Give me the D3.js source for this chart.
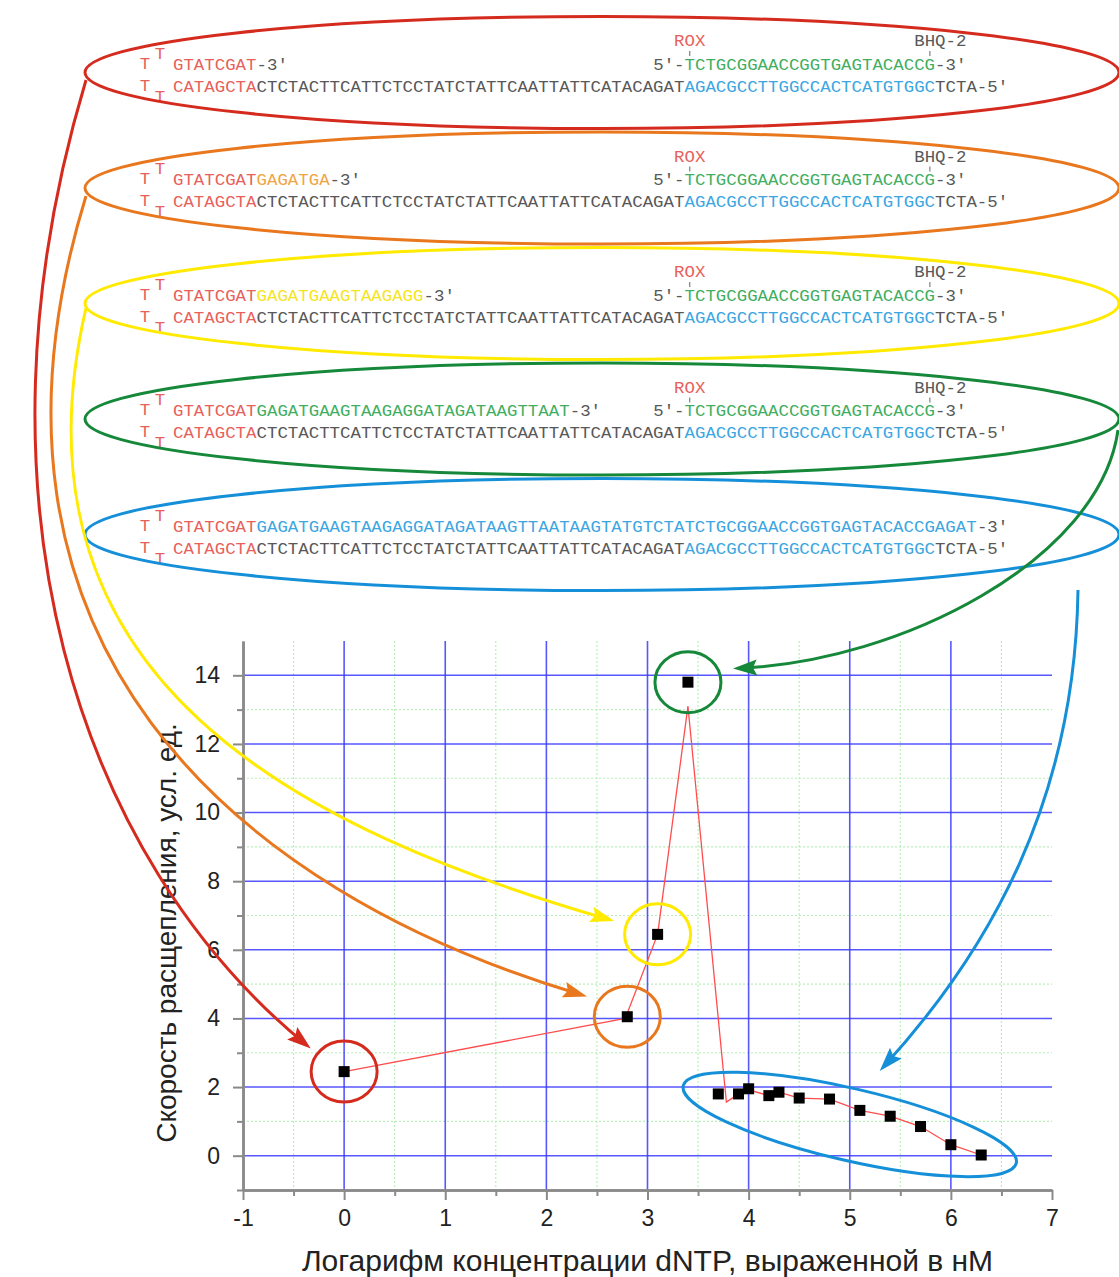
<!DOCTYPE html>
<html>
<head>
<meta charset="utf-8">
<script src="https://cdn.jsdelivr.net/npm/d3@7"></script>
<style>
  body { margin: 0; background: #fff; }
  svg { display: block; }
</style>
</head>
<body>
<script>
// ---- Measured cleavage rate vs log10 of dNTP concentration (nM) ----
const logConc = [0, 2.8, 3.1, 3.4, 3.7, 3.9, 4.0, 4.2, 4.3, 4.5, 4.8, 5.1, 5.4, 5.7, 6.0, 6.3];
const rate    = [2.45, 4.05, 6.45, 13.8, 1.8, 1.8, 1.95, 1.75, 1.85, 1.68, 1.65, 1.32, 1.15, 0.85, 0.32, 0.02];

// connecting trace drawn under the markers
const traceX = [0, 2.78, 3.1, 3.4, 3.78, 3.9, 4.0, 4.2, 4.3, 4.5, 4.8, 5.1, 5.4, 5.7, 6.0, 6.3];
const traceY = [2.45, 4.0, 6.45, 13.1, 1.56, 1.8, 1.92, 1.75, 1.85, 1.68, 1.65, 1.32, 1.15, 0.85, 0.32, 0.02];

const xTicks = [-1, 0, 1, 2, 3, 4, 5, 6, 7];
const yTicks = [0, 2, 4, 6, 8, 10, 12, 14];
const xMinorTicks = [-0.5, 0.5, 1.5, 2.5, 3.5, 4.5, 5.5, 6.5];
const yMinorTicks = [-1, 1, 3, 5, 7, 9, 11, 13];

const xTitle = "Логарифм концентрации dNTP, выраженной в нМ";
const yTitle = "Скорость расщепления, усл. ед.";

// ---- Hairpin primer / template / probe sequences for each extension stage ----
const loopTop = "GTATCGAT";
const loopBottom = "CATAGCTA";
const templateMid = "CTCTACTTCATTCTCCTATCTATTCAATTATTCATACAGAT";
const templateProbeSite = "AGACGCCTTGGCCACTCATGTGGC";
const templateTail = "TCTA-5′";
const probe = "TCTGCGGAACCGGTGAGTACACCG";
const extensions = [
  "",
  "GAGATGA",
  "GAGATGAAGTAAGAGG",
  "GAGATGAAGTAAGAGGATAGATAAGTTAAT",
  "GAGATGAAGTAAGAGGATAGATAAGTTAATAAGTATGTCTATCTGCGGAACCGGTGAGTACACCGAGAT"
];
const probePresent = [true, true, true, true, false];
const stageColors = ["#d52b1e", "#e8771e", "#ffea00", "#15883a", "#1590d8"];
const extColors   = ["#e8605a", "#f2a444", "#f6e41e", "#3fae5f", "#3ba6e2"];
// which measured points belong to each stage
const stagePoints = [[0], [1], [2], [3], [4, 5, 6, 7, 8, 9, 10, 11, 12, 13, 14, 15]];

const W = 1119, H = 1277;
const svg = d3.select("body").append("svg").attr("width", W).attr("height", H);

const RED_TXT = "#e8605a", GRAY_TXT = "#585858", GREEN_TXT = "#3fae5f", BLUE_TXT = "#3ba6e2";
const sans = "'Liberation Sans', Arial, sans-serif";

// ================= sequence panel =================
const mono = "'Liberation Mono','DejaVu Sans Mono',monospace";
const fontSize = 17.4, adv = 10.44, col0 = 173, rowGap = 115.5;
const colX = c => col0 + c * adv;
const seqG = svg.append("g").attr("font-family", mono).attr("font-size", fontSize);

function put(xp, yp, str, color, anchor) {
  seqG.append("text").attr("x", xp).attr("y", yp)
    .attr("fill", color).attr("text-anchor", anchor || "start")
    .text(str);
}

extensions.forEach((ext, k) => {
  const top = 69.5 + k * rowGap, bot = top + 22;
  // hairpin loop
  put(145, top - 1, "T", RED_TXT, "middle");
  put(160, top - 11, "T", RED_TXT, "middle");
  put(145, bot - 1, "T", RED_TXT, "middle");
  put(160, bot + 10, "T", RED_TXT, "middle");
  // extended primer strand
  put(colX(0), top, loopTop, RED_TXT);
  if (ext) put(colX(8), top, ext, extColors[k]);
  put(colX(8 + ext.length), top, "-3′", GRAY_TXT);
  // labelled probe
  if (probePresent[k]) {
    put(colX(46), top, "5′-", GRAY_TXT);
    put(colX(49), top, probe, GREEN_TXT);
    put(colX(73), top, "-3′", GRAY_TXT);
    put(colX(48), top - 23.5, "ROX", RED_TXT);
    put(colX(71), top - 23.5, "BHQ-2", GRAY_TXT);
    [49.5, 72.5].forEach(c => {
      seqG.append("line").attr("x1", colX(c)).attr("x2", colX(c))
        .attr("y1", top - 18.5).attr("y2", top - 13.5)
        .attr("stroke", "#666").attr("stroke-width", 1);
    });
  }
  // template strand
  put(colX(0), bot, loopBottom, RED_TXT);
  put(colX(8), bot, templateMid, GRAY_TXT);
  put(colX(49), bot, templateProbeSite, BLUE_TXT);
  put(colX(73), bot, templateTail, GRAY_TXT);

  // stage outline
  svg.append("ellipse")
    .attr("cx", 602).attr("cy", 72.5 + k * rowGap).attr("rx", 517).attr("ry", 56)
    .attr("fill", "none").attr("stroke", stageColors[k]).attr("stroke-width", 3);
});

// ================= chart =================
const x = d3.scaleLinear().domain([-1, 7]).range([243, 1052]);
const y = d3.scaleLinear().domain([-1, 15]).range([1190, 641]);
const chart = svg.append("g");

// minor dotted grid
chart.append("g").selectAll("line").data(xMinorTicks).join("line")
  .attr("x1", d => x(d)).attr("x2", d => x(d)).attr("y1", y(15)).attr("y2", y(-1))
  .attr("stroke", "#b8f0b8").attr("stroke-width", 1.2).attr("stroke-dasharray", "2,2");
chart.append("g").selectAll("line").data(yMinorTicks.filter(v => v > -1)).join("line")
  .attr("x1", x(-1)).attr("x2", x(7)).attr("y1", d => y(d)).attr("y2", d => y(d))
  .attr("stroke", "#b8f0b8").attr("stroke-width", 1.2).attr("stroke-dasharray", "2,2");

// major grid
chart.append("g").selectAll("line").data(xTicks.filter(v => v > -1 && v < 7)).join("line")
  .attr("x1", d => x(d)).attr("x2", d => x(d)).attr("y1", y(15)).attr("y2", y(-1))
  .attr("stroke", "#3a3aff").attr("stroke-opacity", 0.85).attr("stroke-width", 1.6);
chart.append("g").selectAll("line").data(yTicks).join("line")
  .attr("x1", x(-1)).attr("x2", x(7)).attr("y1", d => y(d)).attr("y2", d => y(d))
  .attr("stroke", "#3a3aff").attr("stroke-opacity", 0.85).attr("stroke-width", 1.6);

// axes
const axisColor = "#8a8a8a";
function styleAxis(sel) {
  sel.select(".domain").attr("stroke", axisColor).attr("stroke-width", 2.5);
  sel.selectAll(".tick line").attr("stroke", axisColor).attr("stroke-width", 2);
  sel.selectAll("text").attr("font-family", sans).attr("font-size", 23).attr("fill", "#222");
}
const plainNum = d => String(d);
chart.append("g").attr("transform", `translate(0,${y(-1)})`)
  .call(d3.axisBottom(x).tickValues(xMinorTicks).tickSize(6).tickSizeOuter(0).tickFormat(""))
  .call(styleAxis);
chart.append("g").attr("transform", `translate(0,${y(-1)})`)
  .call(d3.axisBottom(x).tickValues(xTicks).tickSize(10).tickSizeOuter(0).tickPadding(10)
    .tickFormat(plainNum))
  .call(styleAxis);
chart.append("g").attr("transform", `translate(${x(-1)},0)`)
  .call(d3.axisLeft(y).tickValues(yMinorTicks).tickSize(6).tickSizeOuter(0).tickFormat(""))
  .call(styleAxis);
chart.append("g").attr("transform", `translate(${x(-1)},0)`)
  .call(d3.axisLeft(y).tickValues(yTicks).tickSize(10).tickSizeOuter(0).tickPadding(13)
    .tickFormat(plainNum))
  .call(styleAxis);

// axis titles
chart.append("text").attr("x", (x(-1) + x(7)) / 2).attr("y", 1271)
  .attr("text-anchor", "middle").attr("font-family", sans)
  .attr("font-size", 30).attr("fill", "#222").text(xTitle);
chart.append("text").attr("transform", `translate(176,933) rotate(-90)`)
  .attr("text-anchor", "middle").attr("font-family", sans)
  .attr("font-size", 28).attr("fill", "#222").text(yTitle);

// connecting trace
const trace = traceX.map((v, i) => [v, traceY[i]]);
chart.append("path").datum(trace)
  .attr("d", d3.line().x(d => x(d[0])).y(d => y(d[1])))
  .attr("fill", "none").attr("stroke", "#ff4d4d").attr("stroke-width", 1.3);

// markers
const pts = logConc.map((v, i) => [v, rate[i]]);
const ms = 11;
chart.append("g").selectAll("rect").data(pts).join("rect")
  .attr("x", d => x(d[0]) - ms / 2).attr("y", d => y(d[1]) - ms / 2)
  .attr("width", ms).attr("height", ms).attr("fill", "#000");

// stage highlights on the chart
const hl = svg.append("g").attr("fill", "none").attr("stroke-width", 3);
stagePoints.forEach((idx, k) => {
  if (idx.length === 1) {
    const p = pts[idx[0]];
    hl.append("ellipse").attr("cx", x(p[0])).attr("cy", y(p[1]))
      .attr("rx", 33).attr("ry", 30.5).attr("stroke", stageColors[k]);
  } else {
    const a = pts[idx[0]], b = pts[idx[idx.length - 1]];
    const ax = x(a[0]), ay = y(a[1]), bx = x(b[0]), by = y(b[1]);
    const cx = (ax + bx) / 2, cy = (ay + by) / 2;
    const ang = Math.atan2(by - ay, bx - ax) * 180 / Math.PI;
    const half = Math.hypot(bx - ax, by - ay) / 2;
    hl.append("ellipse").attr("cx", 0).attr("cy", 0)
      .attr("rx", half + 36).attr("ry", 36)
      .attr("transform", `translate(${cx},${cy}) rotate(${ang})`)
      .attr("stroke", stageColors[k]);
  }
});

// ================= connector arrows =================
const defs = svg.append("defs");
stageColors.forEach((c, k) => {
  defs.append("marker").attr("id", "ah" + k)
    .attr("markerUnits", "userSpaceOnUse").attr("markerWidth", 24).attr("markerHeight", 18)
    .attr("viewBox", "0 0 24 18").attr("refX", 18).attr("refY", 9).attr("orient", "auto")
    .append("path").attr("d", "M0,1 L24,9 L0,17 L4,9 Z").attr("fill", c);
});

const P = (i, dx, dy) => [x(pts[i][0]) + dx, y(pts[i][1]) + dy];
const clusterMid = [(x(pts[4][0]) + x(pts[15][0])) / 2, (y(pts[4][1]) + y(pts[15][1])) / 2];
const arrows = [
  { k: 0, p: [[86, 80], [-40, 500], [80, 860], P(0, -38, -27)] },
  { k: 1, p: [[86, 196], [-50, 640], [230, 890], P(1, -46, -22)] },
  { k: 2, p: [[86, 308], [0, 680], [300, 830], P(2, -49, -15)] },
  { k: 3, p: [[1118, 430], [1100, 560], [900, 662], P(3, 51, -14)] },
  { k: 4, p: [[1078, 590], [1075, 800], [990, 950], [clusterMid[0] + 34, clusterMid[1] - 58]] }
];
arrows.forEach(a => {
  const [p0, p1, p2, p3] = a.p;
  const path = d3.path();
  path.moveTo(...p0);
  path.bezierCurveTo(...p1, ...p2, ...p3);
  svg.append("path").attr("d", path.toString())
    .attr("fill", "none").attr("stroke", stageColors[a.k]).attr("stroke-width", 3)
    .attr("marker-end", `url(#ah${a.k})`);
});
</script>
</body>
</html>
